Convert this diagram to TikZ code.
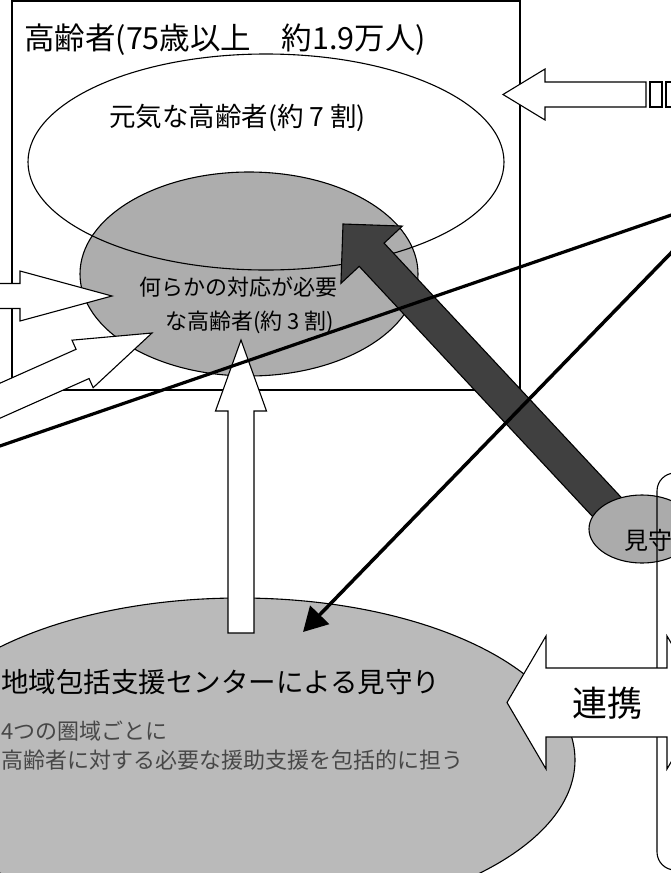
\documentclass[tikz,border=0pt]{standalone}
\usepackage{fontspec}
\setmainfont{Noto Sans CJK JP}
\usetikzlibrary{shapes.geometric,arrows.meta}
\tikzset{
  outl/.style={draw=black, line width=1.1pt},
  blk/.style={outl, fill=white},
  ell/.style={ellipse, draw=black, line width=1.1pt, inner sep=0pt},
  fs/.style={font=\fontsize{#1pt}{#1pt}\selectfont, inner sep=0pt},
}
% tip, angle, total length, shaft half width, head half width, head length, style
\newcommand\blockarrow[7]{%
  \begin{scope}[shift={(#1)},rotate=#2]
    \path[#7] (0,0) -- (-#6,#5) -- (-#6,#4) -- (-#3,#4) -- (-#3,-#4) -- (-#6,-#4) -- (-#6,-#5) -- cycle;
  \end{scope}}
\begin{document}
\begin{tikzpicture}[x=1pt,y=-1pt]
\useasboundingbox (0,0) rectangle (671,873);
\clip (0,0) rectangle (671,873);
\fill[white] (0,0) rectangle (671,873);
% frame
\draw[outl] (12,1) rectangle (520,390);
% ellipses
\node[ell, fill=black!32, minimum width=338pt, minimum height=204pt] (need) at (249,274) {};
\node[ell, minimum width=476pt, minimum height=216pt] (genki) at (266,162) {};
\node[ell, fill=black!27, minimum width=670pt, minimum height=324pt] (center) at (240,760) {};
% dark arrow
\blockarrow{343,224}{133}{392}{17}{42}{42}{draw=black, line width=1.1pt, fill=black!75}
% small ellipse
\node[ell, fill=black!33, minimum width=106pt, minimum height=68pt] (mima) at (642,529) {};
\node[fs=24, anchor=west] (mimat) at (624,540) {見守り};
% rounded box
\draw[outl, rounded corners=18pt] (657,473) rectangle (760,870);
% double arrow
\draw[blk] (507,702.5) -- (546,636) -- (546,668) -- (667,668) -- (667,636) -- (706,702.5)
  -- (667,769) -- (667,737) -- (546,737) -- (546,769) -- cycle;
\node[fs=35] (renkei) at (607,703) {連携};
% white block arrows
\blockarrow{241,340}{90}{293}{13}{25.5}{71}{blk}
\blockarrow{112,296}{0}{140}{12.5}{25}{92}{blk}
\blockarrow{152,333}{24}{220}{16}{26}{76}{blk}
\blockarrow{503,94.5}{180}{143}{12.5}{25.5}{42}{blk}
\draw[blk] (650,82) rectangle (662,107);
\draw[blk] (666,82) rectangle (678,107);
% texts
\node[fs=30.5, anchor=west] (title) at (24,40) {高齢者(75歳以上　約1.9万人)};
\node[fs=26.5] (genkit) at (237.5,118) {元気な高齢者(約 7 割)};
\node[fs=22] (needt1) at (238.5,287) {何らかの対応が必要};
\node[fs=22] (needt2) at (249.5,322) {な高齢者(約 3 割)};
\node[fs=27.5, anchor=west] (ct1) at (1,682) {地域包括支援センターによる見守り};
\node[fs=22, anchor=west, text=black!72] (ct2) at (1,731) {4つの圏域ごとに};
\node[fs=22, anchor=west, text=black!72] (ct3) at (1,760) {高齢者に対する必要な援助支援を包括的に担う};
% lines
\coordinate (L1) at (-10,449.4);
\coordinate (L2) at (690,208.6);
\draw[line width=3.2pt] (L1) -- (L2);
\coordinate (A1) at (690,233.4);
\coordinate (A2) at (303,632);
\draw[line width=3.5pt, -{Triangle[length=24pt,width=26pt]}] (A1) -- (A2);
\end{tikzpicture}
\end{document}
